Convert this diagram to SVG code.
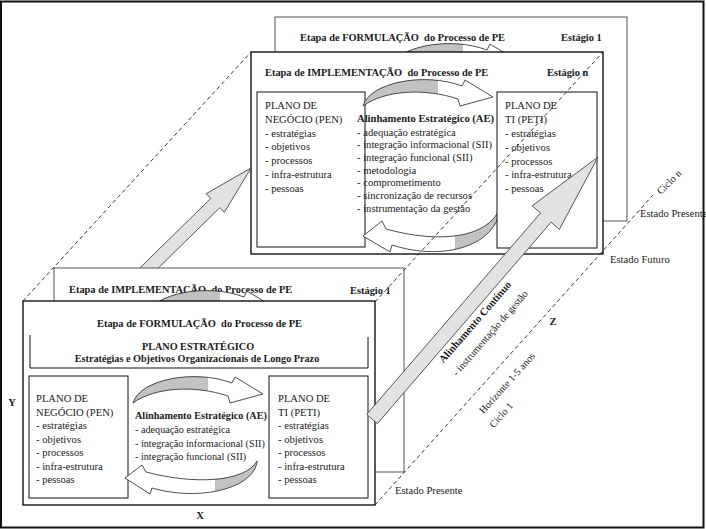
<svg xmlns="http://www.w3.org/2000/svg" width="706" height="529" viewBox="0 0 706 529" font-family="'Liberation Serif', 'Times New Roman', serif">
<style>
text { font-family: "Liberation Serif", "Times New Roman", serif; fill:#1a1a1a; }
.h { font-size:10.4px; font-weight:bold; white-space:pre; }
.t { font-size:10.6px; }
.b { font-size:10.6px; font-weight:bold; }
.tb { font-size:10.2px; }
.bb { font-size:10.2px; font-weight:bold; }
.s { font-size:10.2px; font-weight:bold; }
.r { font-size:10.2px; }
.box { fill:#fff; stroke:#000; stroke-width:1.3; }
.back { fill:#fff; stroke:#555; stroke-width:1; }
.inner { fill:#fff; stroke:#111; stroke-width:1; }
.dash { fill:none; stroke:#222; stroke-width:0.9; stroke-dasharray:4 3; }
.big { fill:#e2e2e2; stroke:#444; stroke-width:0.9; stroke-linejoin:miter; }
.cur { stroke:#222; stroke-width:0.8; }
</style>
<defs>
<linearGradient id="gT" gradientUnits="userSpaceOnUse" x1="363" y1="0" x2="493" y2="0"><stop offset="0.58" stop-color="#c2c2c2"/><stop offset="0.58" stop-color="#fff"/></linearGradient>
<linearGradient id="gB" gradientUnits="userSpaceOnUse" x1="363" y1="0" x2="500" y2="0"><stop offset="0.67" stop-color="#fff"/><stop offset="0.67" stop-color="#c2c2c2"/></linearGradient>
<linearGradient id="gB2" gradientUnits="userSpaceOnUse" x1="125" y1="0" x2="257" y2="0"><stop offset="0.68" stop-color="#fff"/><stop offset="0.68" stop-color="#c2c2c2"/></linearGradient>
<path id="arT" class="cur" fill="url(#gT)" d="M363,106 C370,82 425,72 462,86 L465,80 L493,97 L460,106 L458,99 C425,88 385,90 363,106 Z"/>
</defs>
<rect x="0" y="0" width="706" height="529" fill="#fff"/>
<rect x="1" y="1.5" width="702.5" height="526" fill="none" stroke="#111" stroke-width="2"/>

<g id="stage-formulacao-1-back">
<rect class="back" x="275" y="17" width="352" height="204"/>
<text class="h" x="300" y="41">Etapa de FORMULAÇÃO  do Processo de PE</text>
<text class="h" x="561" y="41">Estágio 1</text>
<use href="#arT" transform="translate(25,-36)"/>
</g>

<g id="stage-implementacao-n">
<rect class="box" x="251" y="52" width="352" height="202"/>
<text class="h" x="265" y="76">Etapa de IMPLEMENTAÇÃO  do Processo de PE</text>
<text class="h" x="547" y="76">Estágio n</text>
<g id="pen-top">
<rect class="inner" x="257" y="92" width="108" height="155"/>
<text class="t" x="265" y="109">PLANO DE</text>
<text class="t" x="265" y="122.8">NEGÓCIO (PEN)</text>
<text class="t" x="265" y="136.6">- estratégias</text>
<text class="t" x="265" y="150.4">- objetivos</text>
<text class="t" x="265" y="164.2">- processos</text>
<text class="t" x="265" y="178">- infra-estrutura</text>
<text class="t" x="265" y="191.8">- pessoas</text>
</g>
<g id="ae-top">
<use href="#arT"/>
<path class="cur" fill="url(#gB)" d="M500,208 C497,245 445,262 392,245 L390,252 L363,236 L382,221 L386,229 C440,244 488,238 500,208 Z"/>
<text class="b" x="357" y="121.5">Alinhamento Estratégico (AE)</text>
<text class="t" x="357" y="135.5">- adequação estratégica</text>
<text class="t" x="357" y="148.2">- integração informacional (SII)</text>
<text class="t" x="357" y="160.9">- integração funcional (SII)</text>
<text class="t" x="357" y="173.6">- metodologia</text>
<text class="t" x="357" y="186.3">- comprometimento</text>
<text class="t" x="357" y="199">- sincronização de recursos</text>
<text class="t" x="357" y="211.7">- instrumentação da gestão</text>
</g>
<g id="peti-top">
<rect class="inner" x="497" y="92" width="100" height="156"/>
<text class="t" x="505" y="109">PLANO DE</text>
<text class="t" x="505" y="123">TI (PETI)</text>
<text class="t" x="505" y="137">- estratégias</text>
<text class="t" x="505" y="151">- objetivos</text>
<text class="t" x="505" y="164.5">- processos</text>
<text class="t" x="505" y="178">- infra-estrutura</text>
<text class="t" x="505" y="192">- pessoas</text>
</g>
</g>

<g id="arrow-left">
<polygon class="big" points="134.3,273.4 210.8,198.4 206.2,193.7 251,168 224.4,212.3 219.9,207.6 143.4,282.6"/>
</g>

<g id="stage-implementacao-1">
<rect class="back" x="54" y="268" width="350" height="204" stroke="#222"/>
<text class="h" x="69" y="293">Etapa de IMPLEMENTAÇÃO  do Processo de PE</text>
<text class="h" x="350" y="294">Estágio 1</text>
<use href="#arT" transform="translate(-218,211)"/>
</g>

<g id="stage-formulacao-front">
<rect class="box" x="23" y="301" width="352" height="204"/>
<text class="h" x="97" y="327">Etapa de FORMULAÇÃO  do Processo de PE</text>
<g id="plano-estrategico">
<path d="M30,335 V368 H368 V337" fill="none" stroke="#111" stroke-width="1"/>
<text class="s" x="198" y="350" text-anchor="middle">PLANO ESTRATÉGICO</text>
<text class="s" x="197" y="361.5" text-anchor="middle">Estratégias e Objetivos Organizacionais de Longo Prazo</text>
</g>
<g id="pen-bottom">
<rect class="inner" x="29" y="376" width="99" height="122"/>
<text class="t" x="36" y="402">PLANO DE</text>
<text class="t" x="36" y="415.5">NEGÓCIO (PEN)</text>
<text class="t" x="36" y="429">- estratégias</text>
<text class="t" x="36" y="442.5">- objetivos</text>
<text class="t" x="36" y="456">- processos</text>
<text class="t" x="36" y="469.5">- infra-estrutura</text>
<text class="t" x="36" y="483">- pessoas</text>
</g>
<g id="ae-bottom">
<use href="#arT" transform="translate(-230,297)"/>
<path class="cur" fill="url(#gB2)" d="M257,461 C255,488 200,502 152,488 L150,494 L125,478 L142,465 L146,472 C195,485 245,482 257,461 Z"/>
<text class="bb" x="135" y="419">Alinhamento Estratégico (AE)</text>
<text class="tb" x="135" y="433">- adequação estratégica</text>
<text class="tb" x="135" y="446.5">- integração informacional (SII)</text>
<text class="tb" x="135" y="459.5">- integração funcional (SII)</text>
</g>
<g id="peti-bottom">
<rect class="inner" x="269" y="376" width="99" height="122"/>
<text class="t" x="278" y="402">PLANO DE</text>
<text class="t" x="278" y="415.5">TI (PETI)</text>
<text class="t" x="278" y="429">- estratégias</text>
<text class="t" x="278" y="442.5">- objetivos</text>
<text class="t" x="278" y="456">- processos</text>
<text class="t" x="278" y="469.5">- infra-estrutura</text>
<text class="t" x="278" y="483">- pessoas</text>
</g>
</g>

<g id="arrow-right">
<polygon class="big" points="366.7,414.4 540.5,213.0 532.2,205.8 598,157 559.4,229.4 551.1,222.2 377.3,423.6"/>
<text class="b" transform="translate(475,322) rotate(-49)" text-anchor="middle" y="3.5">Alinhamento Contínuo</text>
<text class="r" transform="translate(490,333) rotate(-49)" text-anchor="middle" y="3.5">- instrumentação de gestão</text>
</g>

<g id="connectors">
<path class="dash" d="M23,301 L251,52"/>
<path class="dash" d="M375,302 L603,52"/>
<path class="dash" d="M375,505 L653,195"/>
</g>

<g id="labels">
<text class="r" transform="translate(507,383) rotate(-48)" text-anchor="middle" y="3.5">Horizonte 1-5 anos</text>
<text class="r" transform="translate(501,415) rotate(-48)" text-anchor="middle" y="3.5">Ciclo 1</text>
<text class="r" transform="translate(669,182) rotate(-45)" text-anchor="middle" y="3.5">Ciclo n</text>
<text class="t" x="640" y="217">Estado Presente</text>
<text class="t" x="610" y="263">Estado Futuro</text>
<text class="t" x="395" y="494">Estado Presente</text>
<text class="b" x="553" y="325" text-anchor="middle">Z</text>
<text class="b" x="200" y="519" text-anchor="middle">X</text>
<text class="b" x="12" y="406" text-anchor="middle">Y</text>
</g>
</svg>
